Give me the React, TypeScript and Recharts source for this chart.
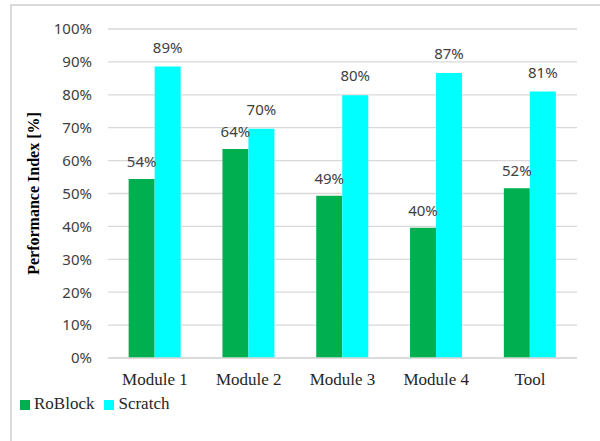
import { BarChart, Bar, XAxis, YAxis, CartesianGrid, Legend, LabelList } from "recharts";

const categories = ["Module 1", "Module 2", "Module 3", "Module 4", "Tool"];
const roblock = [54.4, 63.5, 49.3, 39.6, 51.6];
const scratch = [88.6, 69.7, 79.9, 86.6, 81.0];
const yTicks = [0, 10, 20, 30, 40, 50, 60, 70, 80, 90, 100];

const data = categories.map((name, i) => ({
  name,
  roblock: roblock[i],
  scratch: scratch[i],
}));

const serif = "Liberation Serif";
const sans = "Noto Sans";
const pct = (v: number) => `${Math.round(v)}%`;

export default function App() {
  return (
    <div style={{ position: "absolute", left: 0, top: 0, width: 600, height: 441, background: "#fff", fontFamily: serif }}>
      <div
        style={{
          position: "absolute",
          left: 10,
          top: 4,
          width: 590,
          height: 437,
          borderTop: "2px solid #d9d9d9",
          borderLeft: "2px solid #d9d9d9",
          boxSizing: "border-box",
        }}
      />
      <BarChart
        width={600}
        height={441}
        data={data}
        margin={{ top: 29, right: 23, left: 0, bottom: 33 }}
        barCategoryGap="22%"
        barGap={0}
        style={{ position: "absolute", left: 0, top: 0 }}
      >
        <CartesianGrid vertical={false} stroke="#d9d9d9" strokeWidth={1.3} />
        <XAxis
          dataKey="name"
          axisLine={{ stroke: "#d9d9d9", strokeWidth: 1.3 }}
          tickLine={false}
          tick={{ fill: "#262626", fontSize: 17, fontFamily: serif }}
          tickMargin={9}
          height={30}
        />
        <YAxis
          domain={[0, 100]}
          ticks={yTicks}
          interval={0}
          tickFormatter={(v: number) => `${v}%`}
          axisLine={false}
          tickLine={false}
          tick={{ fill: "#404040", fontSize: 15, fontFamily: sans }}
          tickMargin={10}
          width={108}
          label={{
            value: "Performance Index [%]",
            angle: -90,
            position: "insideLeft",
            offset: 33,
            style: { textAnchor: "middle", fontWeight: "bold", fontSize: 16, fill: "#000", fontFamily: serif },
          }}
        />
        <Legend
          verticalAlign="bottom"
          align="left"
          iconType="square"
          iconSize={10}
          height={20}
          wrapperStyle={{ left: 20, bottom: 27, fontSize: 17, fontFamily: serif, color: "#262626" }}
          formatter={(value: string) => (
            <span style={{ color: "#262626", fontFamily: serif, fontSize: 17 }}>{value}</span>
          )}
        />
        <Bar dataKey="roblock" name="RoBlock" fill="#00b050" isAnimationActive={false}>
          <LabelList dataKey="roblock" position="top" offset={12} formatter={pct} style={{ fill: "#404040", fontSize: 15, fontFamily: sans }} />
        </Bar>
        <Bar dataKey="scratch" name="Scratch" fill="#00ffff" isAnimationActive={false}>
          <LabelList dataKey="scratch" position="top" offset={14} formatter={pct} style={{ fill: "#404040", fontSize: 15, fontFamily: sans }} />
        </Bar>
      </BarChart>
    </div>
  );
}
